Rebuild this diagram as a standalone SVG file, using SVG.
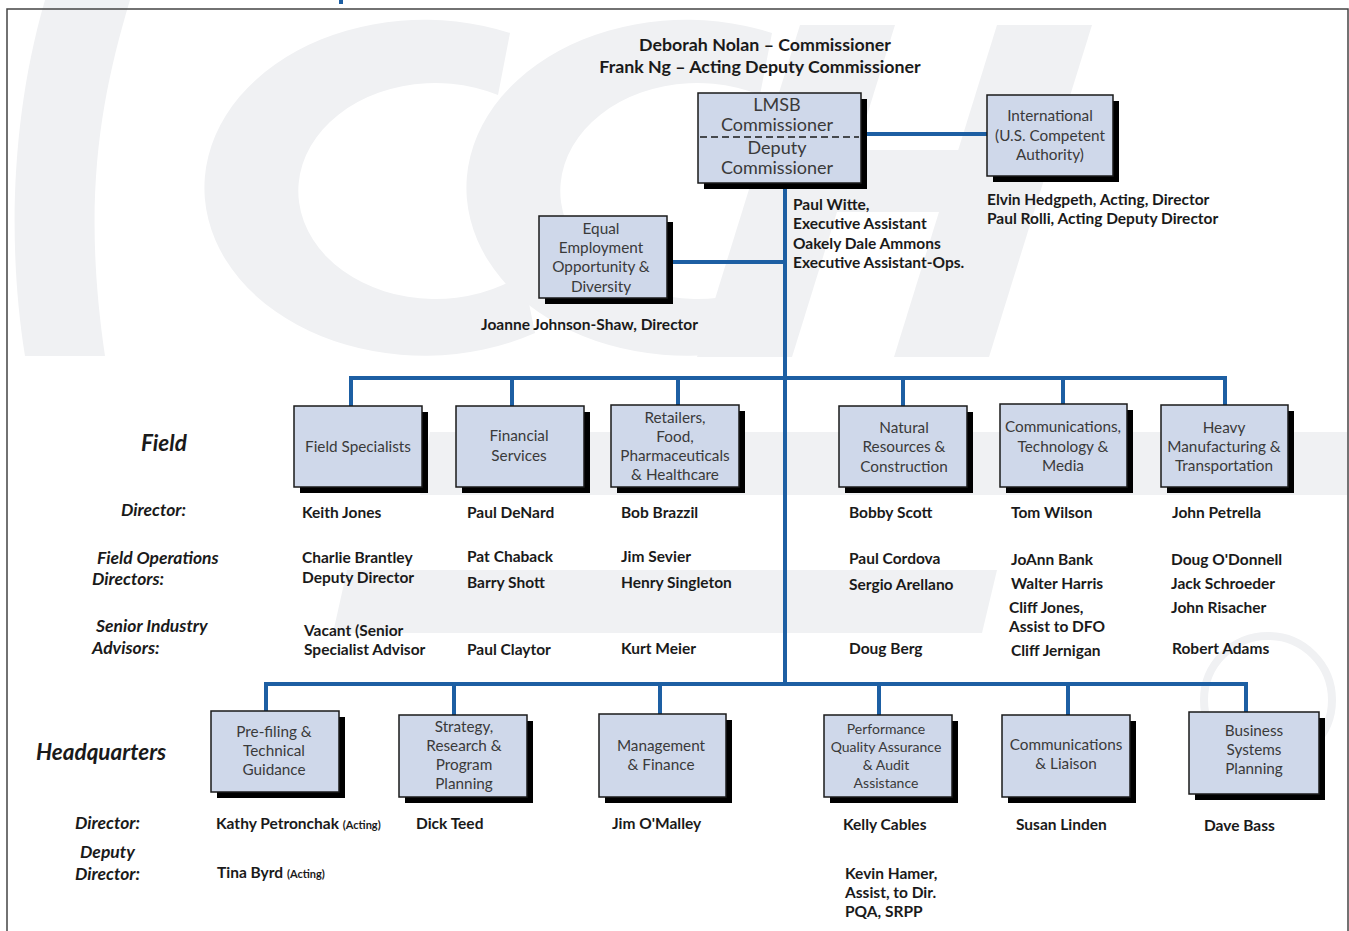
<svg xmlns="http://www.w3.org/2000/svg" width="1349" height="931" viewBox="0 0 1349 931">
<style>
.wm{fill:#f0f1f3}
.sh{fill:#000}
.bx{fill:#cfd8ea;stroke:#1a1a1a;stroke-width:1.5}
.bt{font-family:Lato,"Open Sans",sans-serif;font-size:15.3px;fill:#3a3a3a;text-anchor:middle}
.nm{font-family:Lato,"Liberation Sans",sans-serif;font-size:15.5px;font-weight:bold;fill:#1a1a1a}
.sm{font-size:11px}
.hd{font-family:Lato,"Liberation Sans",sans-serif;font-size:17.8px;font-weight:bold;fill:#1a1a1a;text-anchor:middle}
.lb{font-family:Lato,"Liberation Sans",sans-serif;font-size:17.5px;font-weight:bold;font-style:italic;fill:#1a1a1a}
.big{font-size:22.5px}
.cn{fill:none;stroke:#1d5fa3;stroke-width:4}
</style>
<rect width="1349" height="931" fill="#fff"/>
<g id="watermark">
<path class="wm" d="M45 0 L130 0 C100 100 82 200 105 356 L25 356 C8 250 10 120 45 0 Z"/>
<path class="wm" d="M510 33 A220 168 0 1 0 535 333 L523 274 A137 108 0 1 1 498 95 Z"/>
<path class="wm" d="M772 33 A220 168 0 1 0 797 333 L785 274 A137 108 0 1 1 760 95 Z"/>
<path class="wm" d="M800 25 L895 25 L792 357 L697 357 Z"/>
<path class="wm" d="M997 25 L1092 25 L989 357 L894 357 Z"/>
<path class="wm" d="M853 150 L1030 150 L1010 212 L833 212 Z"/>
<path class="wm" d="M430 432 L1347 432 L1347 495 L420 495 Z"/>
<path class="wm" d="M347 570 L997 570 L982 633 L333 633 Z"/>
<circle cx="1268" cy="700" r="64" fill="none" stroke="#f0f1f3" stroke-width="8"/>
</g>
<rect x="339" y="0" width="4" height="4" fill="#1d5fa3"/>
<rect x="7" y="9" width="1341" height="940" fill="none" stroke="#444" stroke-width="1.5"/>
<g id="header">
<text class="hd" x="765" y="51">Deborah Nolan – Commissioner</text>
<text class="hd" x="760" y="73">Frank Ng – Acting Deputy Commissioner</text>
</g>
<g id="connectors">
<path class="cn" d="M785 183 V684"/>
<path class="cn" d="M861 134 H987"/>
<path class="cn" d="M667 262 H785"/>
<path class="cn" d="M351 406 V378 H1225 V405"/>
<path class="cn" d="M512 378 V406 M678 378 V406 M903 378 V406 M1063 378 V404"/>
<path class="cn" d="M266 711 V684 H1246 V712"/>
<path class="cn" d="M454 684 V715 M660 684 V714 M879 684 V715 M1068 684 V715"/>
</g>
<g id="lmsb">
<rect class="sh" x="704" y="99" width="163" height="90"/>
<rect class="bx" x="698" y="93" width="163" height="90"/>
<line x1="700" y1="137" x2="859" y2="137" stroke="#1a1a1a" stroke-width="1.5" stroke-dasharray="7 4"/>
<text class="bt" style="font-size:18px" x="777" y="111">LMSB</text>
<text class="bt" style="font-size:18px" x="777" y="131">Commissioner</text>
<text class="bt" style="font-size:18px" x="777" y="154">Deputy</text>
<text class="bt" style="font-size:18px" x="777" y="174">Commissioner</text>
<text class="nm" x="793" y="210">Paul Witte,</text>
<text class="nm" x="793" y="229">Executive Assistant</text>
<text class="nm" x="793" y="249">Oakely Dale Ammons</text>
<text class="nm" x="793" y="268">Executive Assistant-Ops.</text>
</g>
<g id="international">
<rect class="sh" x="993" y="101" width="126" height="81"/>
<rect class="bx" x="987" y="95" width="126" height="81"/>
<text class="bt" x="1050" y="121">International</text>
<text class="bt" x="1050" y="141">(U.S. Competent</text>
<text class="bt" x="1050" y="160">Authority)</text>
<text class="nm" x="987" y="205">Elvin Hedgpeth, Acting, Director</text>
<text class="nm" x="987" y="224">Paul Rolli, Acting Deputy Director</text>
</g>
<g id="eeo">
<rect class="sh" x="545" y="222" width="128" height="82"/>
<rect class="bx" x="539" y="216" width="128" height="82"/>
<text class="bt" x="601" y="234">Equal</text>
<text class="bt" x="601" y="253">Employment</text>
<text class="bt" x="601" y="272">Opportunity &amp;</text>
<text class="bt" x="601" y="292">Diversity</text>
<text class="nm" x="481" y="330">Joanne Johnson-Shaw, Director</text>
</g>
<g id="field-labels">
<text class="lb big" x="141" y="451">Field</text>
<text class="lb" x="121" y="516">Director:</text>
<text class="lb" x="97" y="564">Field Operations</text>
<text class="lb" x="92" y="585">Directors:</text>
<text class="lb" x="96" y="632">Senior Industry</text>
<text class="lb" x="92" y="654">Advisors:</text>
</g>
<g id="field-specialists">
<rect class="sh" x="300" y="412" width="128" height="81"/>
<rect class="bx" x="294" y="406" width="128" height="81"/>
<text class="bt" x="358" y="452">Field Specialists</text>
<text class="nm" x="302" y="518">Keith Jones</text>
<text class="nm" x="302" y="563">Charlie Brantley</text>
<text class="nm" x="302" y="583">Deputy Director</text>
<text class="nm" x="304" y="636">Vacant (Senior</text>
<text class="nm" x="304" y="655">Specialist Advisor</text>
</g>
<g id="financial-services">
<rect class="sh" x="462" y="412" width="128" height="81"/>
<rect class="bx" x="456" y="406" width="128" height="81"/>
<text class="bt" x="519" y="441">Financial</text>
<text class="bt" x="519" y="461">Services</text>
<text class="nm" x="467" y="518">Paul DeNard</text>
<text class="nm" x="467" y="562">Pat Chaback</text>
<text class="nm" x="467" y="588">Barry Shott</text>
<text class="nm" x="467" y="655">Paul Claytor</text>
</g>
<g id="retailers">
<rect class="sh" x="617" y="411" width="128" height="82"/>
<rect class="bx" x="611" y="405" width="128" height="82"/>
<text class="bt" x="675" y="423">Retailers,</text>
<text class="bt" x="675" y="442">Food,</text>
<text class="bt" x="675" y="461">Pharmaceuticals</text>
<text class="bt" x="675" y="480">&amp; Healthcare</text>
<text class="nm" x="621" y="518">Bob Brazzil</text>
<text class="nm" x="621" y="562">Jim Sevier</text>
<text class="nm" x="621" y="588">Henry Singleton</text>
<text class="nm" x="621" y="654">Kurt Meier</text>
</g>
<g id="natural-resources">
<rect class="sh" x="845" y="412" width="128" height="81"/>
<rect class="bx" x="839" y="406" width="128" height="81"/>
<text class="bt" x="904" y="433">Natural</text>
<text class="bt" x="904" y="452">Resources &amp;</text>
<text class="bt" x="904" y="472">Construction</text>
<text class="nm" x="849" y="518">Bobby Scott</text>
<text class="nm" x="849" y="564">Paul Cordova</text>
<text class="nm" x="849" y="590">Sergio Arellano</text>
<text class="nm" x="849" y="654">Doug Berg</text>
</g>
<g id="communications-tech">
<rect class="sh" x="1006" y="410" width="127" height="83"/>
<rect class="bx" x="1000" y="404" width="127" height="83"/>
<text class="bt" x="1063" y="432">Communications,</text>
<text class="bt" x="1063" y="452">Technology &amp;</text>
<text class="bt" x="1063" y="471">Media</text>
<text class="nm" x="1011" y="518">Tom Wilson</text>
<text class="nm" x="1011" y="565">JoAnn Bank</text>
<text class="nm" x="1011" y="589">Walter Harris</text>
<text class="nm" x="1009" y="613">Cliff Jones,</text>
<text class="nm" x="1009" y="632">Assist to DFO</text>
<text class="nm" x="1011" y="656">Cliff Jernigan</text>
</g>
<g id="heavy-manufacturing">
<rect class="sh" x="1167" y="411" width="127" height="82"/>
<rect class="bx" x="1161" y="405" width="127" height="82"/>
<text class="bt" x="1224" y="433">Heavy</text>
<text class="bt" x="1224" y="452">Manufacturing &amp;</text>
<text class="bt" x="1224" y="471">Transportation</text>
<text class="nm" x="1172" y="518">John Petrella</text>
<text class="nm" x="1171" y="565">Doug O'Donnell</text>
<text class="nm" x="1171" y="589">Jack Schroeder</text>
<text class="nm" x="1171" y="613">John Risacher</text>
<text class="nm" x="1172" y="654">Robert Adams</text>
</g>
<g id="hq-labels">
<text class="lb big" x="36" y="760">Headquarters</text>
<text class="lb" x="75" y="829">Director:</text>
<text class="lb" x="80" y="858">Deputy</text>
<text class="lb" x="75" y="880">Director:</text>
</g>
<g id="prefiling">
<rect class="sh" x="217" y="717" width="128" height="81"/>
<rect class="bx" x="211" y="711" width="128" height="81"/>
<text class="bt" x="274" y="737">Pre-filing &amp;</text>
<text class="bt" x="274" y="756">Technical</text>
<text class="bt" x="274" y="775">Guidance</text>
<text class="nm" x="216" y="829">Kathy Petronchak <tspan class="sm">(Acting)</tspan></text>
<text class="nm" x="217" y="878">Tina Byrd <tspan class="sm">(Acting)</tspan></text>
</g>
<g id="strategy">
<rect class="sh" x="405" y="721" width="128" height="82"/>
<rect class="bx" x="399" y="715" width="128" height="82"/>
<text class="bt" x="464" y="732">Strategy,</text>
<text class="bt" x="464" y="751">Research &amp;</text>
<text class="bt" x="464" y="770">Program</text>
<text class="bt" x="464" y="789">Planning</text>
<text class="nm" x="416" y="829">Dick Teed</text>
</g>
<g id="management-finance">
<rect class="sh" x="605" y="720" width="127" height="83"/>
<rect class="bx" x="599" y="714" width="127" height="83"/>
<text class="bt" x="661" y="751">Management</text>
<text class="bt" x="661" y="770">&amp; Finance</text>
<text class="nm" x="612" y="829">Jim O'Malley</text>
</g>
<g id="performance-qa">
<rect class="sh" x="830" y="721" width="128" height="82"/>
<rect class="bx" x="824" y="715" width="128" height="82"/>
<text class="bt" style="font-size:14px" x="886" y="734">Performance</text>
<text class="bt" style="font-size:14px" x="886" y="752">Quality Assurance</text>
<text class="bt" style="font-size:14px" x="886" y="770">&amp; Audit</text>
<text class="bt" style="font-size:14px" x="886" y="788">Assistance</text>
<text class="nm" x="843" y="830">Kelly Cables</text>
<text class="nm" x="845" y="879">Kevin Hamer,</text>
<text class="nm" x="845" y="898">Assist, to Dir.</text>
<text class="nm" x="845" y="917">PQA, SRPP</text>
</g>
<g id="communications-liaison">
<rect class="sh" x="1008" y="721" width="128" height="82"/>
<rect class="bx" x="1002" y="715" width="128" height="82"/>
<text class="bt" x="1066" y="750">Communications</text>
<text class="bt" x="1066" y="769">&amp; Liaison</text>
<text class="nm" x="1016" y="830">Susan Linden</text>
</g>
<g id="business-systems">
<rect class="sh" x="1195" y="718" width="130" height="82"/>
<rect class="bx" x="1189" y="712" width="130" height="82"/>
<text class="bt" x="1254" y="736">Business</text>
<text class="bt" x="1254" y="755">Systems</text>
<text class="bt" x="1254" y="774">Planning</text>
<text class="nm" x="1204" y="831">Dave Bass</text>
</g>
</svg>
